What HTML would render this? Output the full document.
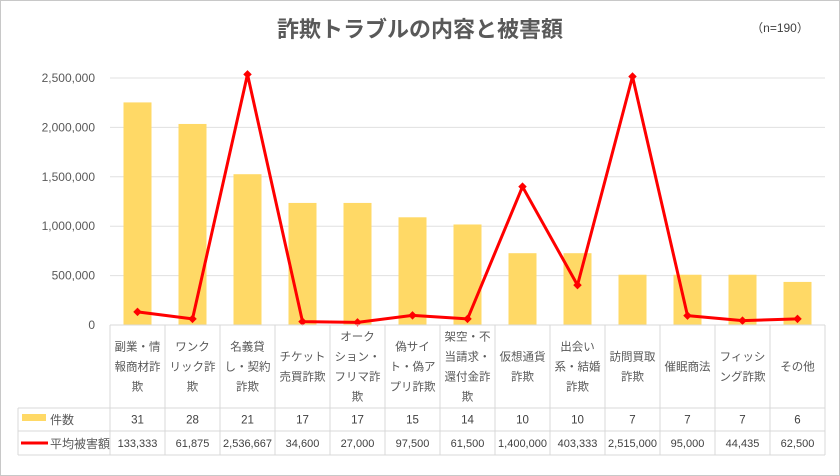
<!DOCTYPE html>
<html><head><meta charset="utf-8"><style>
body{margin:0;background:#fff;}
svg{display:block;font-family:"Liberation Sans","Noto Sans CJK JP",sans-serif;}
</style></head><body>
<svg id="chart" width="840" height="476" viewBox="0 0 840 476">
<rect x="0.5" y="0.5" width="839" height="475" fill="#fff" stroke="#c8c8c8"/>
<text x="420" y="37" text-anchor="middle" font-size="22" font-weight="bold" fill="#595959">詐欺トラブルの内容と被害額</text>
<text x="780" y="32" text-anchor="middle" font-size="12" fill="#404040">（n=190）</text>
<g id="grid"></g><g id="bars"></g><g id="line"></g><g id="table"></g>
</svg>
<script>
const categories=[["副業・情","報商材詐","欺"],["ワンク","リック詐","欺"],["名義貸","し・契約","詐欺"],["チケット","売買詐欺"],["オーク","ション・","フリマ詐","欺"],["偽サイ","ト・偽ア","プリ詐欺"],["架空・不","当請求・","還付金詐","欺"],["仮想通貨","詐欺"],["出会い","系・結婚","詐欺"],["訪問買取","詐欺"],["催眠商法"],["フィッシ","ング詐欺"],["その他"]];
const counts=[31,28,21,17,17,15,14,10,10,7,7,7,6];
const damages=[133333,61875,2536667,34600,27000,97500,61500,1400000,403333,2515000,95000,44435,62500];
const damageLabels=["133,333","61,875","2,536,667","34,600","27,000","97,500","61,500","1,400,000","403,333","2,515,000","95,000","44,435","62,500"];
const yTicks=[0,500000,1000000,1500000,2000000,2500000];
const yTickLabels=["0","500,000","1,000,000","1,500,000","2,000,000","2,500,000"];
const NS="http://www.w3.org/2000/svg";
const X0=110,X1=825,Y0=325,Y1=78,YMAX=2500000,CMAX=34.4;
const bw=(X1-X0)/categories.length;
const xc=i=>X0+bw*(i+0.5);
const y=v=>Y0-(v/YMAX)*(Y0-Y1);
const yc=v=>Y0-(v/CMAX)*(Y0-Y1);
function mk(tag,attrs,parent,text){const e=document.createElementNS(NS,tag);for(const k in attrs)e.setAttribute(k,attrs[k]);if(text!==undefined)e.textContent=text;document.getElementById(parent).appendChild(e);return e;}
yTicks.forEach((t,i)=>{
 if(i>0){const g=mk('line',{x1:X0,x2:X1,y1:y(t),y2:y(t),stroke:'#e0e0e0'},'grid');
 
 }
 const l=mk('text',{x:95,y:y(t)+4,'text-anchor':'end','font-size':12,fill:'#595959'},'grid',yTickLabels[i]);
 
 
});
counts.forEach((c,i)=>{
 const r=mk('rect',{x:xc(i)-14,y:yc(c),width:28,height:Y0-yc(c),fill:'#ffd966'},'bars');
 
 
});
const pts=damages.map((d,i)=>xc(i)+','+y(d)).join(' ');
const pl=mk('polyline',{points:pts,fill:'none',stroke:'#ff0000','stroke-width':3,'stroke-linejoin':'round'},'line');


damages.forEach((d,i)=>{
 const m=mk('rect',{x:xc(i)-3,y:y(d)-3,width:6,height:6,fill:'#ff0000',transform:`rotate(45 ${xc(i)} ${y(d)})`},'line');
 
 
});
const TL=18,R1=408,R2=431,R3=455;
[[X0,Y0,X0,R3],[TL,R1,X1,R1],[TL,R2,X1,R2],[TL,R3,X1,R3],[TL,R1,TL,R3],[X0,Y0,X1,Y0]].forEach(a=>{
 const l=mk('line',{x1:a[0],y1:a[1],x2:a[2],y2:a[3],stroke:'#d9d9d9'},'table');
 
 
});
for(let i=1;i<=categories.length;i++){
 const l=mk('line',{x1:X0+bw*i,y1:Y0,x2:X0+bw*i,y2:R3,stroke:'#d9d9d9'},'table');
 
 
}
categories.forEach((lines,i)=>{
 const n=lines.length,top=(Y0+R1)/2-(n-1)*10;
 lines.forEach((s,j)=>{
  const t=mk('text',{x:xc(i),y:top+j*20+4,'text-anchor':'middle','font-size':11.5,fill:'#595959'},'table',s);
  
  
 });
 const c=mk('text',{x:xc(i),y:(R1+R2)/2+4,'text-anchor':'middle','font-size':11.5,fill:'#404040'},'table',counts[i]);
 
 
 const d=mk('text',{x:xc(i),y:(R2+R3)/2+4,'text-anchor':'middle','font-size':11,fill:'#404040'},'table',damageLabels[i]);
 
 
});
const lk1=mk('rect',{x:22,y:414,width:24,height:7,fill:'#ffd966'},'table');


const lt1=mk('text',{x:50,y:424,'font-size':12,fill:'#595959'},'table','件数');


const lk2=mk('line',{x1:21,y1:443,x2:48,y2:443,stroke:'#ff0000','stroke-width':3},'table');


const lt2=mk('text',{x:50,y:448,'font-size':12,fill:'#595959'},'table','平均被害額');


</script>
</body></html>
